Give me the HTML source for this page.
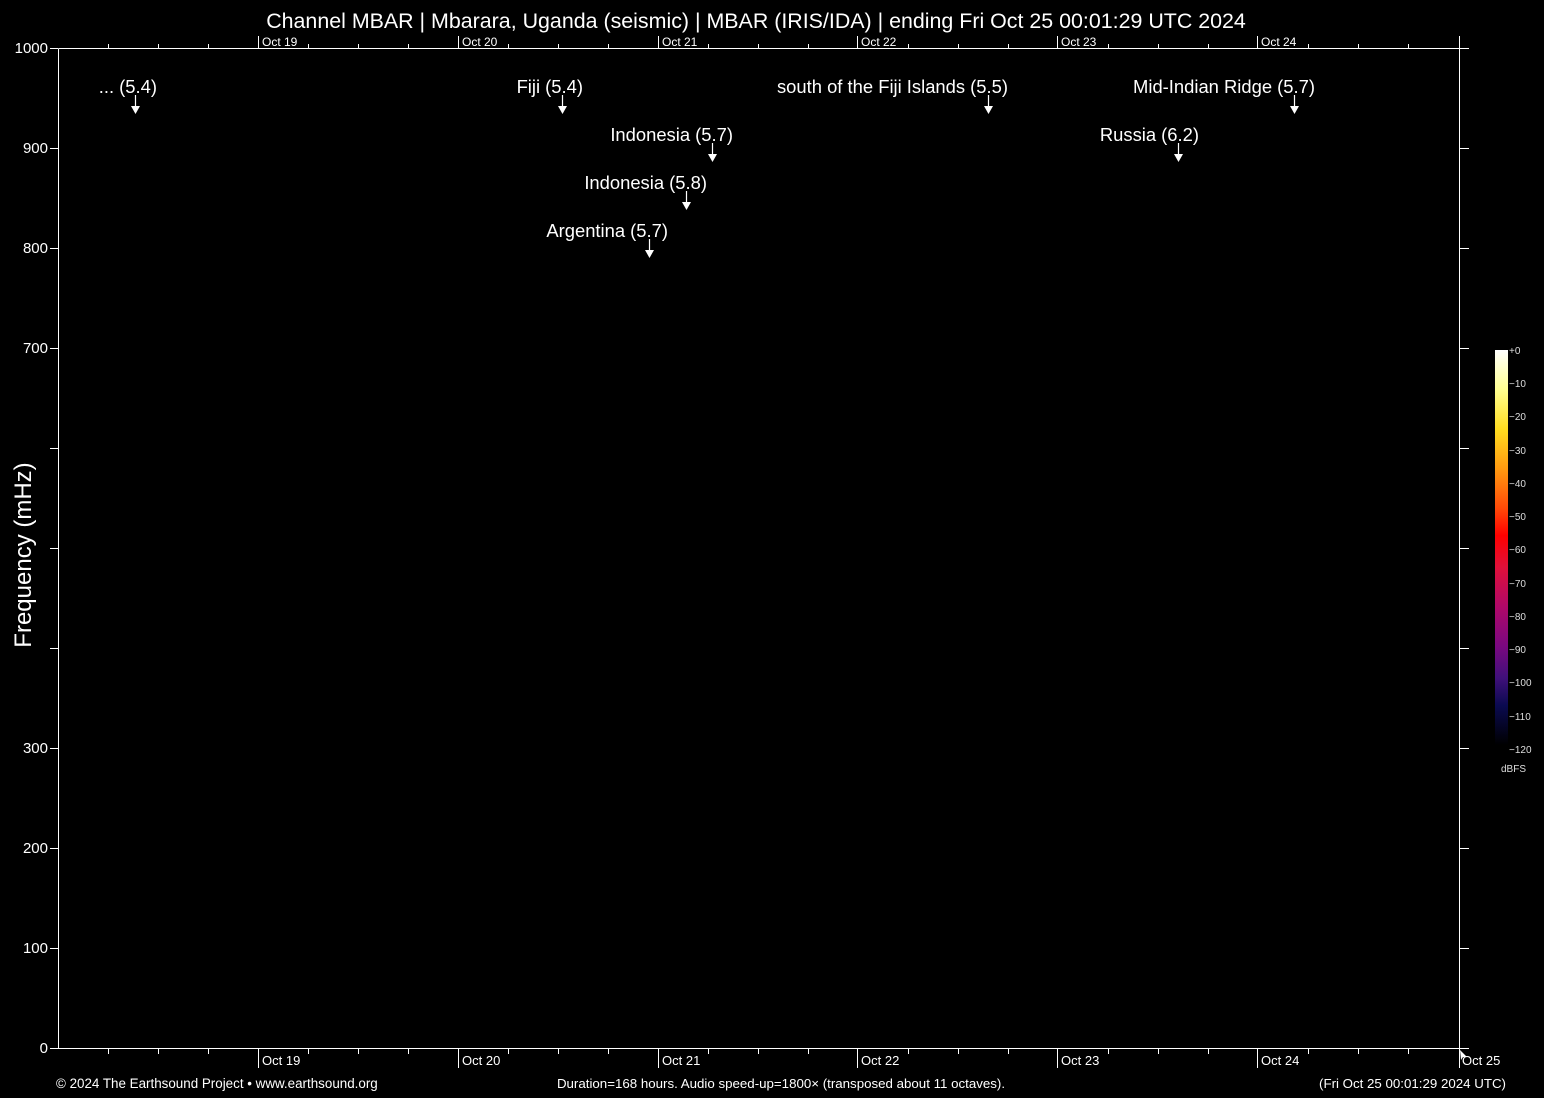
<!DOCTYPE html>
<html><head><meta charset="utf-8"><style>
html,body{margin:0;padding:0;background:#000;}
svg{display:block;font-family:"Liberation Sans",Arial,sans-serif;}
</style></head><body>
<svg width="1544" height="1098" viewBox="0 0 1544 1098" xmlns="http://www.w3.org/2000/svg">
<defs>
<linearGradient id="cb" x1="0" y1="0" x2="0" y2="1">
<stop offset="0" stop-color="#ffffff"/>
<stop offset="0.1" stop-color="#ffff90"/>
<stop offset="0.2" stop-color="#ffdd20"/>
<stop offset="0.3" stop-color="#ff9a10"/>
<stop offset="0.4" stop-color="#ff4a08"/>
<stop offset="0.47" stop-color="#ff0000"/>
<stop offset="0.55" stop-color="#e0103a"/>
<stop offset="0.65" stop-color="#b00868"/>
<stop offset="0.75" stop-color="#7a0880"/>
<stop offset="0.83" stop-color="#40107a"/>
<stop offset="0.9" stop-color="#0a0a50"/>
<stop offset="1" stop-color="#000000"/>
</linearGradient>
</defs>
<rect width="1544" height="1098" fill="#000"/>
<text x="756" y="28" fill="#fff" font-size="21.4" text-anchor="middle">Channel MBAR | Mbarara, Uganda (seismic) | MBAR (IRIS/IDA) | ending Fri Oct 25 00:01:29 UTC 2024</text>
<g stroke="#fff" stroke-width="1" fill="none">
<path d="M58.5 48.5V1048.5H1459.5V48.5H58.5"/>
</g>
<g stroke="#fff" stroke-width="1">
<path d="M50 48.5H58M50 148.5H58M50 248.5H58M50 348.5H58M50 448.5H58M50 548.5H58M50 648.5H58M50 748.5H58M50 848.5H58M50 948.5H58M50 1048.5H58"/>
<path d="M1459 48.5H1469M1459 148.5H1469M1459 248.5H1469M1459 348.5H1469M1459 448.5H1469M1459 548.5H1469M1459 648.5H1469M1459 748.5H1469M1459 848.5H1469M1459 948.5H1469M1459 1048.5H1469"/>
<path d="M108.5 1048V1054M158.5 1048V1054M208.5 1048V1054M308.5 1048V1054M358.5 1048V1054M408.5 1048V1054M508.5 1048V1054M558.5 1048V1054M608.5 1048V1054M708.5 1048V1054M758.5 1048V1054M808.5 1048V1054M908.5 1048V1054M958.5 1048V1054M1008.5 1048V1054M1108.5 1048V1054M1158.5 1048V1054M1208.5 1048V1054M1308.5 1048V1054M1358.5 1048V1054M1408.5 1048V1054"/>
<path d="M258.5 1048V1068M458.5 1048V1068M658.5 1048V1068M857.5 1048V1068M1057.5 1048V1068M1257.5 1048V1068M1459.5 1048V1068"/>
<path d="M108.5 48V44M158.5 48V44M208.5 48V44M308.5 48V44M358.5 48V44M408.5 48V44M508.5 48V44M558.5 48V44M608.5 48V44M708.5 48V44M758.5 48V44M808.5 48V44M908.5 48V44M958.5 48V44M1008.5 48V44M1108.5 48V44M1158.5 48V44M1208.5 48V44M1308.5 48V44M1358.5 48V44M1408.5 48V44"/>
<path d="M258.5 48V36M458.5 48V36M658.5 48V36M857.5 48V36M1057.5 48V36M1257.5 48V36M1459.5 48V36"/>
</g>
<g fill="#fff" font-size="15" text-anchor="end">
<text x="48" y="53">1000</text><text x="48" y="153">900</text><text x="48" y="253">800</text><text x="48" y="353">700</text>
<text x="48" y="753">300</text><text x="48" y="853">200</text><text x="48" y="953">100</text><text x="48" y="1053">0</text>
</g>
<text transform="translate(31,555) rotate(-90)" fill="#fff" font-size="24" text-anchor="middle">Frequency (mHz)</text>
<g fill="#fff" font-size="13">
<text x="262" y="1065">Oct 19</text><text x="462" y="1065">Oct 20</text><text x="662" y="1065">Oct 21</text><text x="861" y="1065">Oct 22</text><text x="1061" y="1065">Oct 23</text><text x="1261" y="1065">Oct 24</text><text x="1462" y="1065">Oct 25</text>
<text x="262" y="46" font-size="12">Oct 19</text><text x="462" y="46" font-size="12">Oct 20</text><text x="662" y="46" font-size="12">Oct 21</text><text x="861" y="46" font-size="12">Oct 22</text><text x="1061" y="46" font-size="12">Oct 23</text><text x="1261" y="46" font-size="12">Oct 24</text>
<text x="56" y="1088" font-size="13.4">© 2024 The Earthsound Project • www.earthsound.org</text>
<text x="781" y="1088" font-size="13.3" text-anchor="middle">Duration=168 hours. Audio speed-up=1800× (transposed about 11 octaves).</text>
<text x="1506" y="1088" font-size="13.3" text-anchor="end">(Fri Oct 25 00:01:29 2024 UTC)</text>
</g>
<g fill="#fff" font-size="18.4" text-anchor="end">
<text x="157" y="93">... (5.4)</text>
<text x="583" y="93">Fiji (5.4)</text>
<text x="1008" y="93">south of the Fiji Islands (5.5)</text>
<text x="1315" y="93">Mid-Indian Ridge (5.7)</text>
<text x="733" y="141">Indonesia (5.7)</text>
<text x="1199" y="141">Russia (6.2)</text>
<text x="707" y="189">Indonesia (5.8)</text>
<text x="668" y="237">Argentina (5.7)</text>
</g>
<g stroke="#fff" stroke-width="1.2">
<path d="M135.5 95V107M562.5 95V107M988.5 95V107M1294.5 95V107M712.5 143V155M1178.5 143V155M686.5 191V203M649.5 239V251"/>
</g>
<g fill="#fff">
<path d="M131 106H140L135.5 114Z"/><path d="M558 106H567L562.5 114Z"/><path d="M984 106H993L988.5 114Z"/><path d="M1290 106H1299L1294.5 114Z"/>
<path d="M708 154H717L712.5 162Z"/><path d="M1174 154H1183L1178.5 162Z"/><path d="M682 202H691L686.5 210Z"/><path d="M645 250H654L649.5 258Z"/>
<path d="M1460 1050L1467 1057L1463 1057L1461 1060Z"/>
</g>
<rect x="1495" y="350" width="13" height="395" fill="url(#cb)"/>
<g fill="#ddd" font-size="10">
<text x="1509" y="354">+0</text><text x="1509" y="387">−10</text><text x="1509" y="420">−20</text><text x="1509" y="454">−30</text><text x="1509" y="487">−40</text><text x="1509" y="520">−50</text><text x="1509" y="553">−60</text><text x="1509" y="587">−70</text><text x="1509" y="620">−80</text><text x="1509" y="653">−90</text><text x="1509" y="686">−100</text><text x="1509" y="720">−110</text><text x="1509" y="753">−120</text>
<text x="1501" y="772">dBFS</text>
</g>
</svg>
</body></html>
